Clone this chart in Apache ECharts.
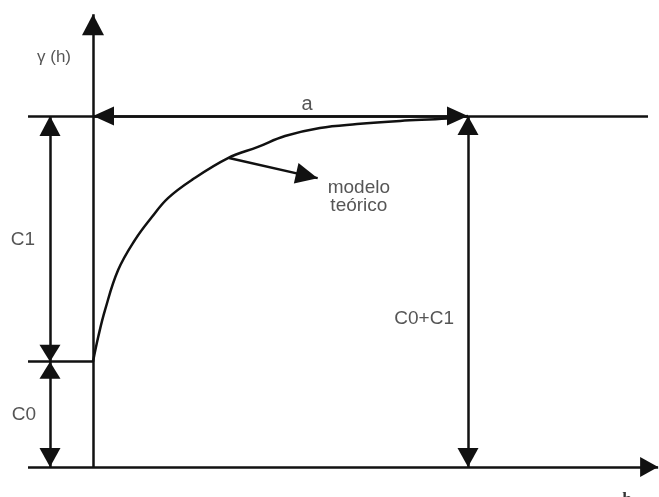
<!DOCTYPE html>
<html>
<head>
<meta charset="utf-8">
<title>Semivariograma</title>
<script src="https://cdn.jsdelivr.net/npm/echarts@6/dist/echarts.min.js"></script>
<style>
  html, body { margin: 0; padding: 0; background: #ffffff; }
  #chart { width: 659px; height: 497px; }
</style>
</head>
<body>
<div id="chart"></div>
<script>
// Semivariogram parameters: nugget, partial sill and range
const C0 = 3;
const C1 = 7;
const RANGE = 10;

// Theoretical model curve, gamma(h)
const curveH =     [0, 0.14, 0.32, 0.67, 1.12, 1.57, 2.00, 2.64, 3.60, 4.40, 5.12, 6.05, 7.04, 8.19, 9.44, 10];
const curveGamma = [3, 3.71, 4.47, 5.61, 6.47, 7.12, 7.66, 8.18, 8.80, 9.12, 9.43, 9.66, 9.77, 9.86, 9.93, 10];

// Annotation texts
const labelGamma = 'γ (h)';
const labelRange = 'a';
const labelC1 = 'C1';
const labelC0 = 'C0';
const labelSill = 'C0+C1';
const labelModel = 'modelo\nteórico';
const labelH = 'h';

const SILL = C0 + C1;
const INK = '#111111';
const TEXT = '#2b2b2b';
const FONT = '"Liberation Sans", Arial, Helvetica, sans-serif';

// arrow head helpers: the tip sits on the segment end
function head(w, l) {
  return { symbol: 'triangle', symbolSize: [w, l], symbolOffset: [0, l / 2] };
}
const NONE = { symbol: 'none' };
function seg(a, b, fromHead, toHead) {
  return [Object.assign({ coord: a }, fromHead || NONE), Object.assign({ coord: b }, toHead || NONE)];
}

const leftX = -1.733;     // where the horizontal guides start
const dimX = -1.147;      // x of the C0 / C1 dimension arrows

const segments = [
  // gamma axis
  seg([0, 0], [0, 12.9], null, head(22, 21)),
  // h axis
  seg([leftX, 0], [15.07, 0], null, head(20, 18)),
  // sill level
  seg([leftX, SILL], [14.8, SILL]),
  // nugget level
  seg([leftX, C0], [0, C0]),
  // range dimension
  seg([0, SILL], [RANGE, SILL], head(19, 21), head(19, 21)),
  // C1 dimension
  seg([dimX, C0], [dimX, SILL], head(21, 17), head(21, 20)),
  // C0 dimension
  seg([dimX, 0], [dimX, C0], head(21, 19), head(21, 17)),
  // C0+C1 dimension
  seg([RANGE, 0], [RANGE, SILL], head(21, 19), head(21, 19)),
  // pointer to the model curve
  seg([3.627, 8.803], [5.99, 8.23], null, head(21, 22))
];

function textItem(name, x, y, extra) {
  return {
    name: name,
    value: [x, y],
    label: Object.assign({
      show: true,
      position: 'inside',
      formatter: '{b}',
      color: TEXT,
      fontFamily: FONT,
      fontSize: 19
    }, extra || {})
  };
}

const texts = [
  textItem(labelGamma, -1.04, 11.68, { fontSize: 17 }),
  textItem(labelRange, 5.71, 10.33, { fontSize: 20 }),
  textItem(labelC1, -1.87, 6.47, { fontSize: 19 }),
  textItem(labelC0, -1.84, 1.49, { fontSize: 19 }),
  textItem(labelSill, 8.83, 4.21, { fontSize: 19 }),
  textItem(labelModel, 7.09, 7.69, { fontSize: 19, lineHeight: 18 }),
  textItem(labelH, 14.24, -0.94, { fontSize: 17, fontWeight: 'bold', color: '#000', fontFamily: '"Liberation Serif", "Times New Roman", serif' })
];

const chart = echarts.init(document.getElementById('chart'), null, { renderer: 'canvas' });
chart.setOption({
  backgroundColor: '#ffffff',
  animation: false,
  grid: { left: 0, right: 0, top: 0, bottom: 0 },
  xAxis: { type: 'value', min: -2.48, max: 15.093, show: false },
  yAxis: { type: 'value', min: -0.8547, max: 13.3048, show: false },
  series: [
    {
      type: 'line',
      data: curveH.map((h, i) => [h, curveGamma[i]]),
      smooth: 0.4,
      showSymbol: false,
      silent: true,
      clip: false,
      lineStyle: { color: INK, width: 2.5 }
    },
    {
      type: 'line',
      data: [],
      silent: true,
      markLine: {
        silent: true,
        animation: false,
        label: { show: false },
        emphasis: { disabled: true },
        lineStyle: { color: INK, width: 2.5, type: 'solid' },
        itemStyle: { color: INK },
        data: segments
      }
    },
    {
      type: 'scatter',
      symbolSize: 0,
      silent: true,
      clip: false,
      data: texts
    }
  ]
});
</script>
</body>
</html>
